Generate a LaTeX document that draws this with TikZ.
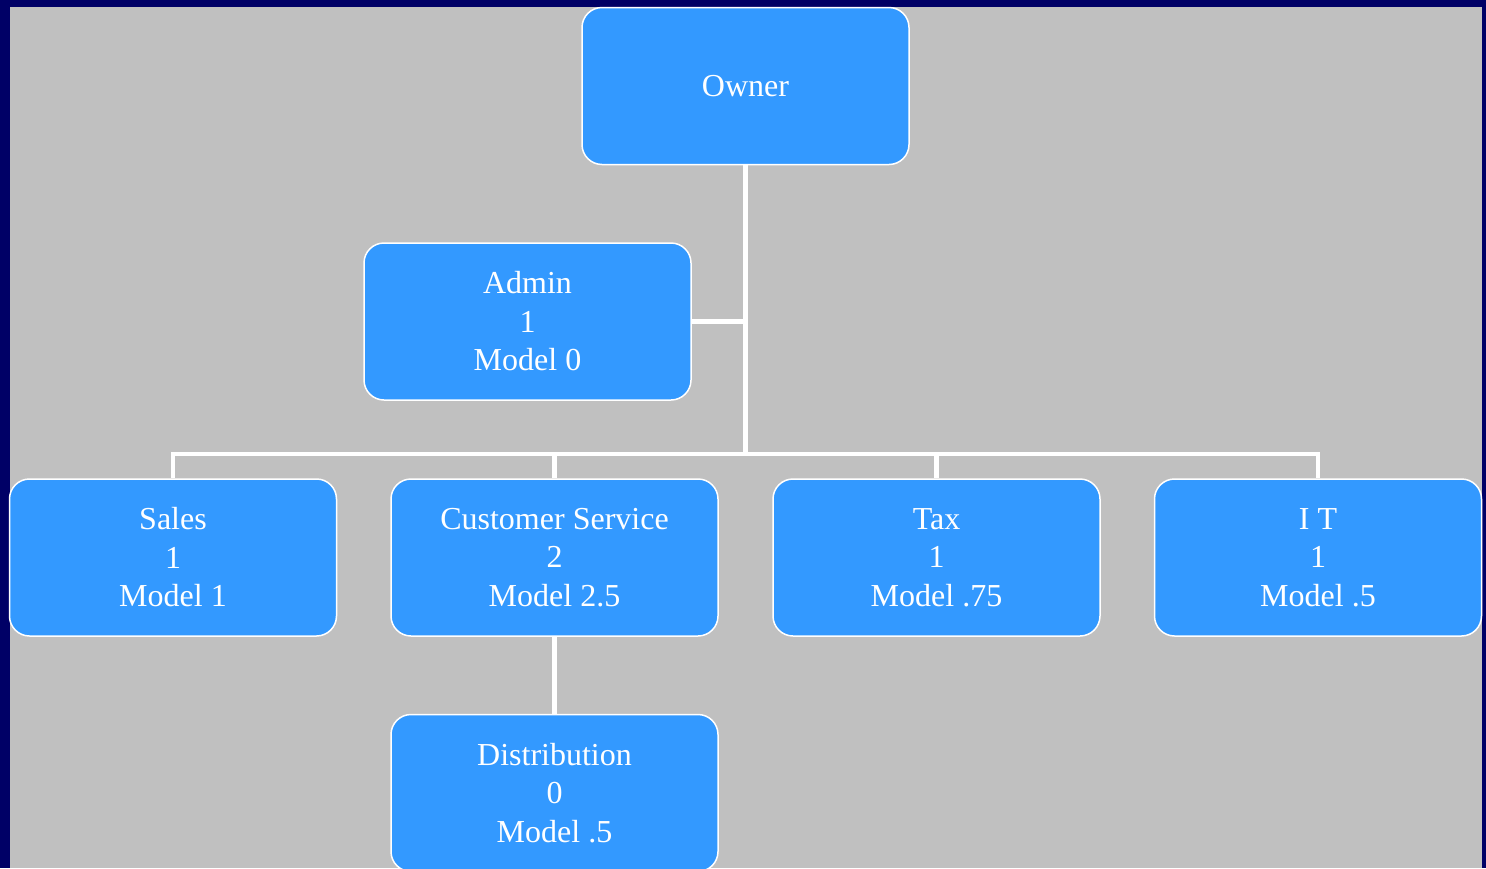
\documentclass[tikz,border=0pt]{standalone}
\usepackage{fontspec}
\setmainfont{Liberation Serif}
\usetikzlibrary{positioning}
\definecolor{navy}{HTML}{000066}
\definecolor{panel}{HTML}{C0C0C0}
\definecolor{boxblue}{HTML}{3399FF}

\begin{document}
\begin{tikzpicture}[x=1pt,y=-1pt,
  unit/.style={draw=white,line width=1.5pt,fill=boxblue,rounded corners=20pt,minimum width=327pt,minimum height=157pt,text=white,align=center,font=\fontsize{32}{38.5}\selectfont},
  link/.style={draw=white,line width=4.5pt}]
\useasboundingbox (0,0) rectangle (1486,868);
\fill[navy] (0,0) rectangle (1486,868);
\fill[panel] (10,7) rectangle (1482,868);
\node[unit] (own) at (745.5,86) {Owner};
\node[unit] (adm) at (527.5,321.5) {Admin\\1\\Model 0};
\node[unit] (sal) at (173,557.5) {Sales\\1\\Model 1};
\node[unit] (cus) at (554.5,557.5) {Customer Service\\2\\Model 2.5};
\node[unit] (tax) at (936.5,557.5) {Tax\\1\\Model .75};
\node[unit] (it) at (1318,557.5) {I T\\1\\Model .5};
\node[unit] (dis) at (554.5,793) {Distribution\\0\\Model .5};
\coordinate (hub) at (745.5,454);
\draw[link] (own.south) -- (hub);
\draw[link] (adm.east) -- (adm.east -| hub);
\foreach \n in {sal,cus,tax,it}{\draw[link] (\n.north) |- (hub);}
\draw[link] (cus.south) -- (dis.north);
\end{tikzpicture}
\end{document}
